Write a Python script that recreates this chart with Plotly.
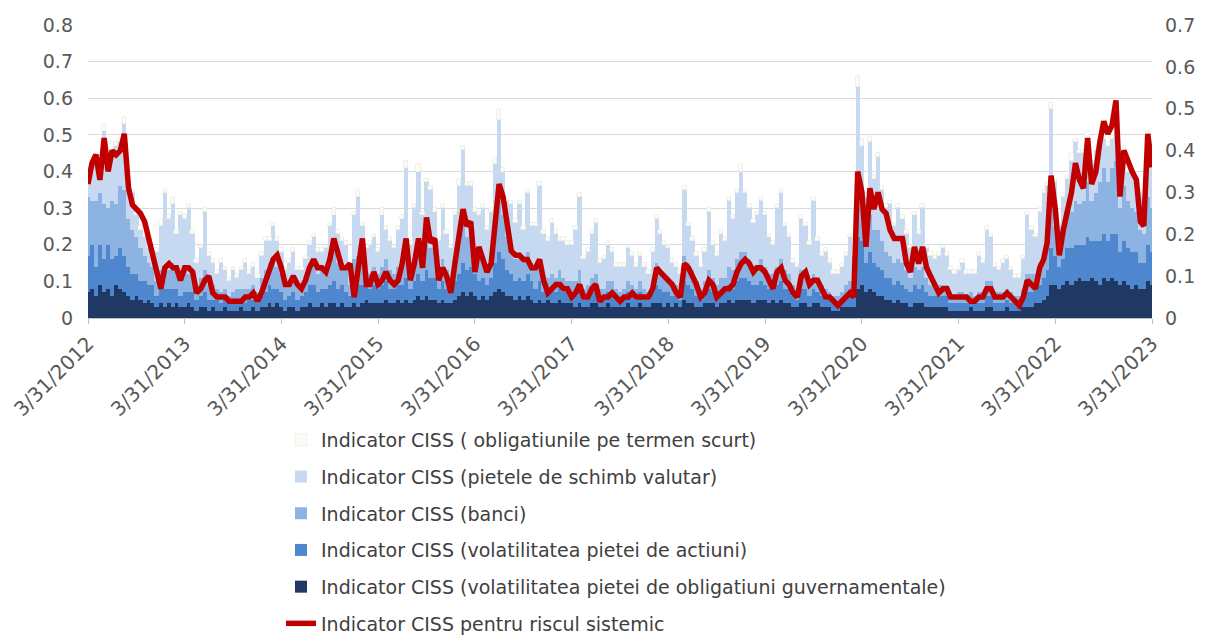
import pandas as pd
import plotly.graph_objects as go

# ---- categories: semi-monthly observation dates (month-end and mid-month) ----
month_ends = [pd.Timestamp("2012-03-31") + pd.offsets.MonthEnd(i) for i in range(133)]
dates = []
for i, d in enumerate(month_ends):
    dates.append(d)
    if i < len(month_ends) - 1:
        dates.append(d + pd.Timedelta(days=15))

# ---- series values (left axis units) ----
gov_bonds = [
    0.07,0.08,0.06,0.09,0.07,0.08,0.06,0.09,0.08,0.07,0.06,0.05,0.06,0.05,0.04,0.05,0.04,0.03,0.04,0.03,0.04,0.03,0.04,0.03,
    0.03,0.04,0.03,0.02,0.03,0.03,0.02,0.03,0.02,0.02,0.03,0.02,0.02,0.02,0.03,0.02,0.02,0.03,0.02,0.03,0.03,0.04,0.03,0.04,
    0.03,0.02,0.03,0.03,0.02,0.03,0.03,0.04,0.03,0.03,0.04,0.03,0.04,0.04,0.03,0.04,0.03,0.03,0.04,0.03,0.04,0.05,0.04,0.04,
    0.04,0.04,0.05,0.04,0.04,0.05,0.04,0.05,0.04,0.05,0.06,0.05,0.06,0.05,0.05,0.04,0.05,0.04,0.04,0.05,0.06,0.07,0.06,0.07,
    0.06,0.05,0.06,0.05,0.06,0.07,0.08,0.07,0.06,0.06,0.05,0.06,0.05,0.06,0.05,0.04,0.05,0.04,0.05,0.04,0.04,0.05,0.04,0.04,
    0.04,0.03,0.04,0.03,0.03,0.04,0.04,0.03,0.03,0.04,0.03,0.03,0.03,0.03,0.04,0.03,0.03,0.04,0.03,0.03,0.04,0.04,0.04,0.03,
    0.04,0.03,0.04,0.03,0.05,0.04,0.04,0.03,0.03,0.04,0.04,0.04,0.03,0.04,0.04,0.05,0.04,0.05,0.05,0.05,0.05,0.04,0.05,0.05,
    0.05,0.04,0.05,0.04,0.05,0.04,0.04,0.03,0.03,0.04,0.04,0.03,0.04,0.04,0.03,0.03,0.03,0.02,0.02,0.03,0.03,0.03,0.03,0.08,
    0.09,0.07,0.08,0.07,0.06,0.06,0.05,0.05,0.04,0.05,0.04,0.04,0.03,0.04,0.04,0.04,0.03,0.03,0.03,0.03,0.03,0.03,0.02,0.02,
    0.02,0.02,0.02,0.03,0.02,0.02,0.02,0.03,0.03,0.02,0.02,0.02,0.03,0.02,0.02,0.02,0.03,0.03,0.03,0.04,0.04,0.05,0.06,0.09,
    0.09,0.08,0.09,0.10,0.09,0.10,0.11,0.10,0.10,0.11,0.10,0.09,0.11,0.10,0.11,0.10,0.09,0.10,0.09,0.08,0.09,0.08,0.08,0.10,0.09,
]
equity = [
    0.10,0.12,0.08,0.11,0.09,0.12,0.10,0.08,0.11,0.10,0.08,0.07,0.06,0.05,0.06,0.04,0.05,0.03,0.04,0.05,0.04,0.05,0.04,0.03,
    0.04,0.03,0.04,0.03,0.03,0.04,0.03,0.02,0.03,0.02,0.02,0.02,0.02,0.03,0.02,0.02,0.03,0.02,0.02,0.03,0.04,0.05,0.05,0.04,
    0.04,0.03,0.03,0.04,0.03,0.03,0.04,0.05,0.06,0.04,0.04,0.05,0.05,0.06,0.05,0.05,0.04,0.03,0.05,0.06,0.05,0.04,0.04,0.05,
    0.04,0.05,0.05,0.04,0.04,0.04,0.05,0.06,0.04,0.05,0.06,0.05,0.07,0.06,0.06,0.04,0.05,0.04,0.03,0.05,0.06,0.08,0.07,0.07,
    0.06,0.05,0.05,0.04,0.05,0.08,0.10,0.09,0.07,0.06,0.05,0.05,0.05,0.06,0.05,0.04,0.05,0.03,0.03,0.04,0.03,0.04,0.03,0.03,
    0.03,0.03,0.04,0.02,0.03,0.03,0.04,0.02,0.02,0.03,0.03,0.02,0.02,0.02,0.03,0.03,0.02,0.03,0.02,0.02,0.03,0.05,0.04,0.04,
    0.03,0.03,0.02,0.02,0.05,0.05,0.04,0.03,0.02,0.03,0.04,0.03,0.03,0.03,0.03,0.04,0.04,0.05,0.06,0.06,0.05,0.05,0.04,0.05,
    0.04,0.04,0.03,0.05,0.05,0.04,0.04,0.03,0.02,0.04,0.04,0.03,0.04,0.03,0.03,0.02,0.02,0.02,0.02,0.02,0.03,0.03,0.03,0.14,
    0.12,0.08,0.10,0.08,0.08,0.07,0.06,0.06,0.05,0.05,0.05,0.04,0.04,0.05,0.04,0.05,0.04,0.03,0.03,0.03,0.03,0.03,0.02,0.02,
    0.02,0.02,0.02,0.02,0.02,0.02,0.02,0.03,0.03,0.02,0.02,0.02,0.02,0.02,0.02,0.02,0.02,0.04,0.04,0.04,0.05,0.06,0.07,0.10,
    0.08,0.06,0.07,0.09,0.10,0.10,0.09,0.10,0.12,0.10,0.11,0.12,0.12,0.11,0.12,0.13,0.09,0.11,0.10,0.10,0.09,0.07,0.07,0.10,0.09,
]
banks = [
    0.16,0.12,0.18,0.14,0.15,0.10,0.16,0.14,0.17,0.18,0.13,0.12,0.10,0.09,0.07,0.06,0.05,0.04,0.05,0.06,0.05,0.07,0.05,0.04,
    0.06,0.05,0.06,0.04,0.05,0.06,0.04,0.04,0.03,0.03,0.03,0.02,0.03,0.03,0.03,0.04,0.03,0.04,0.03,0.05,0.06,0.06,0.07,0.06,
    0.05,0.04,0.04,0.05,0.04,0.03,0.04,0.05,0.06,0.05,0.05,0.05,0.06,0.08,0.07,0.06,0.06,0.03,0.07,0.08,0.06,0.04,0.04,0.05,
    0.04,0.05,0.06,0.05,0.04,0.05,0.06,0.08,0.04,0.06,0.08,0.06,0.10,0.08,0.08,0.05,0.06,0.05,0.04,0.06,0.08,0.11,0.09,0.09,
    0.07,0.06,0.05,0.05,0.06,0.09,0.14,0.12,0.09,0.07,0.06,0.06,0.06,0.06,0.05,0.05,0.06,0.04,0.03,0.04,0.04,0.04,0.04,0.03,
    0.03,0.04,0.05,0.03,0.03,0.04,0.04,0.03,0.03,0.03,0.04,0.03,0.02,0.03,0.03,0.03,0.03,0.03,0.03,0.02,0.03,0.06,0.05,0.05,
    0.04,0.03,0.03,0.02,0.07,0.06,0.05,0.04,0.03,0.03,0.05,0.04,0.03,0.04,0.04,0.05,0.05,0.06,0.07,0.07,0.06,0.05,0.05,0.06,
    0.05,0.04,0.04,0.05,0.06,0.05,0.04,0.03,0.03,0.05,0.05,0.04,0.04,0.04,0.03,0.03,0.02,0.02,0.02,0.02,0.03,0.04,0.03,0.16,
    0.10,0.06,0.10,0.09,0.10,0.08,0.07,0.06,0.06,0.06,0.06,0.05,0.04,0.05,0.05,0.05,0.04,0.03,0.03,0.03,0.03,0.03,0.03,0.02,
    0.03,0.03,0.02,0.02,0.02,0.03,0.03,0.04,0.04,0.03,0.03,0.03,0.03,0.03,0.02,0.02,0.03,0.05,0.05,0.04,0.06,0.07,0.09,0.14,
    0.08,0.05,0.07,0.09,0.10,0.12,0.11,0.12,0.15,0.11,0.13,0.16,0.18,0.16,0.18,0.20,0.12,0.15,0.13,0.12,0.11,0.09,0.08,0.13,0.12,
]
fx_markets = [
    0.05,0.10,0.12,0.08,0.20,0.10,0.14,0.16,0.12,0.18,0.08,0.10,0.06,0.05,0.05,0.04,0.03,0.08,0.12,0.20,0.14,0.16,0.10,0.18,
    0.14,0.18,0.10,0.06,0.08,0.16,0.08,0.06,0.04,0.08,0.05,0.04,0.06,0.03,0.05,0.07,0.04,0.05,0.04,0.06,0.08,0.06,0.10,0.07,
    0.06,0.04,0.05,0.06,0.04,0.04,0.05,0.06,0.07,0.06,0.05,0.06,0.10,0.10,0.08,0.06,0.07,0.04,0.12,0.16,0.10,0.06,0.08,0.08,
    0.06,0.14,0.08,0.08,0.07,0.10,0.12,0.22,0.08,0.14,0.20,0.12,0.14,0.16,0.10,0.08,0.14,0.10,0.08,0.12,0.16,0.20,0.14,0.13,
    0.10,0.12,0.14,0.10,0.12,0.18,0.22,0.12,0.10,0.12,0.10,0.14,0.08,0.16,0.10,0.12,0.20,0.12,0.10,0.14,0.12,0.08,0.10,0.10,
    0.10,0.14,0.20,0.08,0.09,0.12,0.14,0.07,0.08,0.10,0.08,0.06,0.07,0.06,0.09,0.08,0.06,0.07,0.06,0.05,0.08,0.12,0.10,0.08,
    0.08,0.06,0.05,0.05,0.18,0.10,0.08,0.07,0.06,0.08,0.16,0.09,0.08,0.12,0.10,0.18,0.14,0.18,0.22,0.16,0.14,0.12,0.14,0.16,
    0.14,0.10,0.08,0.16,0.18,0.12,0.10,0.06,0.06,0.14,0.12,0.10,0.20,0.10,0.08,0.10,0.08,0.06,0.06,0.07,0.08,0.12,0.08,0.25,
    0.16,0.12,0.20,0.14,0.20,0.14,0.12,0.14,0.10,0.14,0.12,0.10,0.08,0.14,0.10,0.16,0.08,0.08,0.07,0.08,0.10,0.08,0.06,0.06,
    0.06,0.08,0.06,0.05,0.06,0.10,0.08,0.14,0.12,0.07,0.06,0.08,0.08,0.06,0.05,0.05,0.08,0.16,0.12,0.10,0.14,0.16,0.14,0.24,
    0.12,0.06,0.10,0.10,0.14,0.16,0.14,0.13,0.12,0.10,0.12,0.10,0.08,0.10,0.08,0.08,0.10,0.10,0.08,0.10,0.08,0.10,0.10,0.16,0.14,
]
short_term = [
    0.01,0.02,0.01,0.01,0.02,0.01,0.02,0.01,0.01,0.02,0.01,0.01,0.01,0.01,0.01,0.01,0.01,0.01,0.02,0.01,0.01,0.02,0.01,0.01,
    0.01,0.01,0.01,0.01,0.01,0.01,0.01,0.01,0.01,0.01,0.01,0.01,0.01,0.01,0.01,0.01,0.01,0.01,0.01,0.01,0.01,0.01,0.01,0.01,
    0.01,0.01,0.01,0.01,0.01,0.01,0.01,0.01,0.01,0.01,0.01,0.01,0.01,0.02,0.01,0.01,0.01,0.01,0.01,0.02,0.01,0.01,0.01,0.01,
    0.01,0.02,0.01,0.01,0.01,0.01,0.01,0.02,0.01,0.01,0.02,0.01,0.01,0.01,0.01,0.01,0.01,0.01,0.01,0.01,0.02,0.01,0.01,0.01,
    0.01,0.01,0.01,0.01,0.01,0.02,0.03,0.01,0.01,0.01,0.01,0.01,0.01,0.01,0.01,0.01,0.01,0.01,0.01,0.01,0.01,0.01,0.01,0.01,
    0.01,0.01,0.01,0.01,0.01,0.01,0.01,0.01,0.01,0.01,0.01,0.01,0.01,0.01,0.01,0.01,0.01,0.01,0.01,0.01,0.01,0.01,0.01,0.01,
    0.01,0.01,0.01,0.01,0.01,0.01,0.01,0.01,0.01,0.01,0.01,0.01,0.01,0.01,0.01,0.01,0.01,0.01,0.02,0.01,0.01,0.01,0.01,0.01,
    0.01,0.01,0.01,0.01,0.01,0.01,0.01,0.01,0.01,0.01,0.01,0.01,0.01,0.01,0.01,0.01,0.01,0.01,0.01,0.01,0.01,0.01,0.01,0.03,
    0.02,0.01,0.02,0.01,0.01,0.01,0.01,0.01,0.01,0.01,0.01,0.01,0.01,0.01,0.01,0.01,0.01,0.01,0.01,0.01,0.01,0.01,0.01,0.01,
    0.01,0.01,0.01,0.01,0.01,0.01,0.01,0.01,0.01,0.01,0.01,0.01,0.01,0.01,0.01,0.01,0.01,0.01,0.01,0.01,0.01,0.01,0.01,0.02,
    0.01,0.01,0.01,0.01,0.02,0.01,0.01,0.01,0.02,0.01,0.01,0.01,0.02,0.01,0.01,0.02,0.01,0.01,0.01,0.01,0.01,0.01,0.01,0.02,0.01,
]
# systemic risk indicator (right axis units)
ciss_total = [
    0.32,0.37,0.39,0.33,0.43,0.35,0.40,0.39,0.40,0.44,0.31,0.27,0.26,0.25,0.23,0.19,0.15,0.12,0.07,0.12,0.13,0.12,0.12,0.09,
    0.12,0.12,0.11,0.06,0.07,0.09,0.10,0.06,0.05,0.05,0.05,0.04,0.04,0.04,0.04,0.05,0.05,0.06,0.04,0.06,0.09,0.11,0.14,0.15,
    0.12,0.08,0.08,0.10,0.08,0.07,0.09,0.12,0.14,0.12,0.12,0.11,0.14,0.19,0.15,0.12,0.12,0.13,0.05,0.13,0.19,0.08,0.08,0.11,
    0.08,0.09,0.11,0.09,0.08,0.09,0.13,0.19,0.09,0.13,0.19,0.12,0.24,0.18,0.19,0.09,0.12,0.10,0.06,0.13,0.19,0.26,0.22,0.23,
    0.11,0.17,0.14,0.11,0.13,0.22,0.32,0.29,0.23,0.16,0.15,0.15,0.14,0.14,0.12,0.12,0.14,0.09,0.06,0.07,0.08,0.08,0.07,0.07,
    0.05,0.06,0.08,0.05,0.05,0.07,0.08,0.04,0.05,0.05,0.06,0.05,0.04,0.05,0.05,0.06,0.05,0.05,0.05,0.05,0.07,0.12,0.11,0.10,
    0.09,0.08,0.06,0.05,0.13,0.12,0.10,0.08,0.05,0.06,0.09,0.08,0.05,0.06,0.07,0.07,0.08,0.11,0.13,0.14,0.13,0.11,0.12,0.12,
    0.11,0.09,0.07,0.11,0.12,0.09,0.08,0.06,0.05,0.10,0.11,0.08,0.09,0.09,0.07,0.05,0.05,0.04,0.03,0.04,0.05,0.06,0.05,0.35,
    0.30,0.17,0.31,0.26,0.30,0.26,0.25,0.21,0.19,0.19,0.19,0.13,0.11,0.17,0.13,0.17,0.12,0.10,0.08,0.06,0.07,0.07,0.05,0.05,
    0.05,0.05,0.05,0.04,0.04,0.05,0.05,0.07,0.07,0.05,0.05,0.05,0.06,0.05,0.04,0.03,0.05,0.09,0.08,0.07,0.12,0.14,0.18,0.34,
    0.26,0.15,0.21,0.26,0.30,0.37,0.33,0.31,0.43,0.32,0.35,0.42,0.47,0.44,0.46,0.52,0.29,0.40,0.37,0.35,0.33,0.23,0.22,0.44,0.36,
]

names = [
    "Indicator CISS ( obligatiunile pe termen scurt)",
    "Indicator CISS (pietele de schimb valutar)",
    "Indicator CISS (banci)",
    "Indicator CISS (volatilitatea pietei de actiuni)",
    "Indicator CISS (volatilitatea pietei de obligatiuni guvernamentale)",
    "Indicator CISS pentru riscul sistemic",
]
tick_dates = [pd.Timestamp(f"{y}-03-31") for y in range(2012, 2024)]
tick_text = [f"3/31/{y}" for y in range(2012, 2024)]

FONT = "'DejaVu Sans', sans-serif"
BAR_WIDTH_MS = 16.2 * 86400000
fig = go.Figure()

stack = [
    (gov_bonds, names[4], "#1F3864", 5),
    (equity, names[3], "#4F87CF", 4),
    (banks, names[2], "#8DB3E2", 3),
    (fx_markets, names[1], "#C6D9F0", 2),
    (short_term, names[0], "#FCFCF6", 1),
]
for vals, nm, col, rank in stack:
    fig.add_trace(go.Bar(
        x=dates, y=vals, name=nm, legendrank=rank, legendgroup=nm,
        width=BAR_WIDTH_MS,
        marker=dict(color=col, line=dict(width=0.6 if rank == 1 else 0, color="#E6E6DE")),
    ))

fig.add_trace(go.Scatter(
    x=dates, y=ciss_total, name=names[5], legendrank=6, legendgroup=names[5],
    mode="lines", line=dict(color="#C00000", width=5.5), yaxis="y2",
))

fig.update_layout(
    width=1208, height=635,
    barmode="stack", bargap=0,
    paper_bgcolor="white", plot_bgcolor="white",
    margin=dict(l=88, r=56, t=25, b=317, autoexpand=False),
    font=dict(family=FONT, size=18, color="#595959"),
    showlegend=True,
    legend=dict(
        xref="container", yref="container",
        x=0.2326, y=0.337, xanchor="left", yanchor="top",
        orientation="v", traceorder="grouped", tracegroupgap=9,
        font=dict(family=FONT, size=19, color="#404040"), itemwidth=30,
        bgcolor="rgba(0,0,0,0)",
    ),
    xaxis=dict(
        type="date", automargin=False, ticklabeloverflow="allow",
        range=[tick_dates[0], tick_dates[-1]],
        tickvals=tick_dates, ticktext=tick_text, tickangle=-45,
        showgrid=False, showline=True, linecolor="#BFBFBF", linewidth=1,
        ticks="outside", ticklen=5, tickcolor="#BFBFBF",
        tickfont=dict(family=FONT, size=20, color="#595959"),
        zeroline=False,
    ),
    yaxis=dict(
        range=[0, 0.8], dtick=0.1, tick0=0, automargin=False,
        showgrid=True, gridcolor="#D9D9D9", gridwidth=1,
        zeroline=False, showline=False,
        ticklabelstandoff=14,
        tickfont=dict(family=FONT, size=19, color="#595959"),
    ),
    yaxis2=dict(
        range=[0, 0.7], dtick=0.1, tick0=0, automargin=False,
        overlaying="y", side="right",
        showgrid=False, zeroline=False, showline=False,
        ticklabelstandoff=12,
        tickfont=dict(family=FONT, size=19, color="#595959"),
    ),
)

fig.write_html(
    "out.html",
    config={"displayModeBar": False},
    post_script="document.body.style.margin='0px';",
)
